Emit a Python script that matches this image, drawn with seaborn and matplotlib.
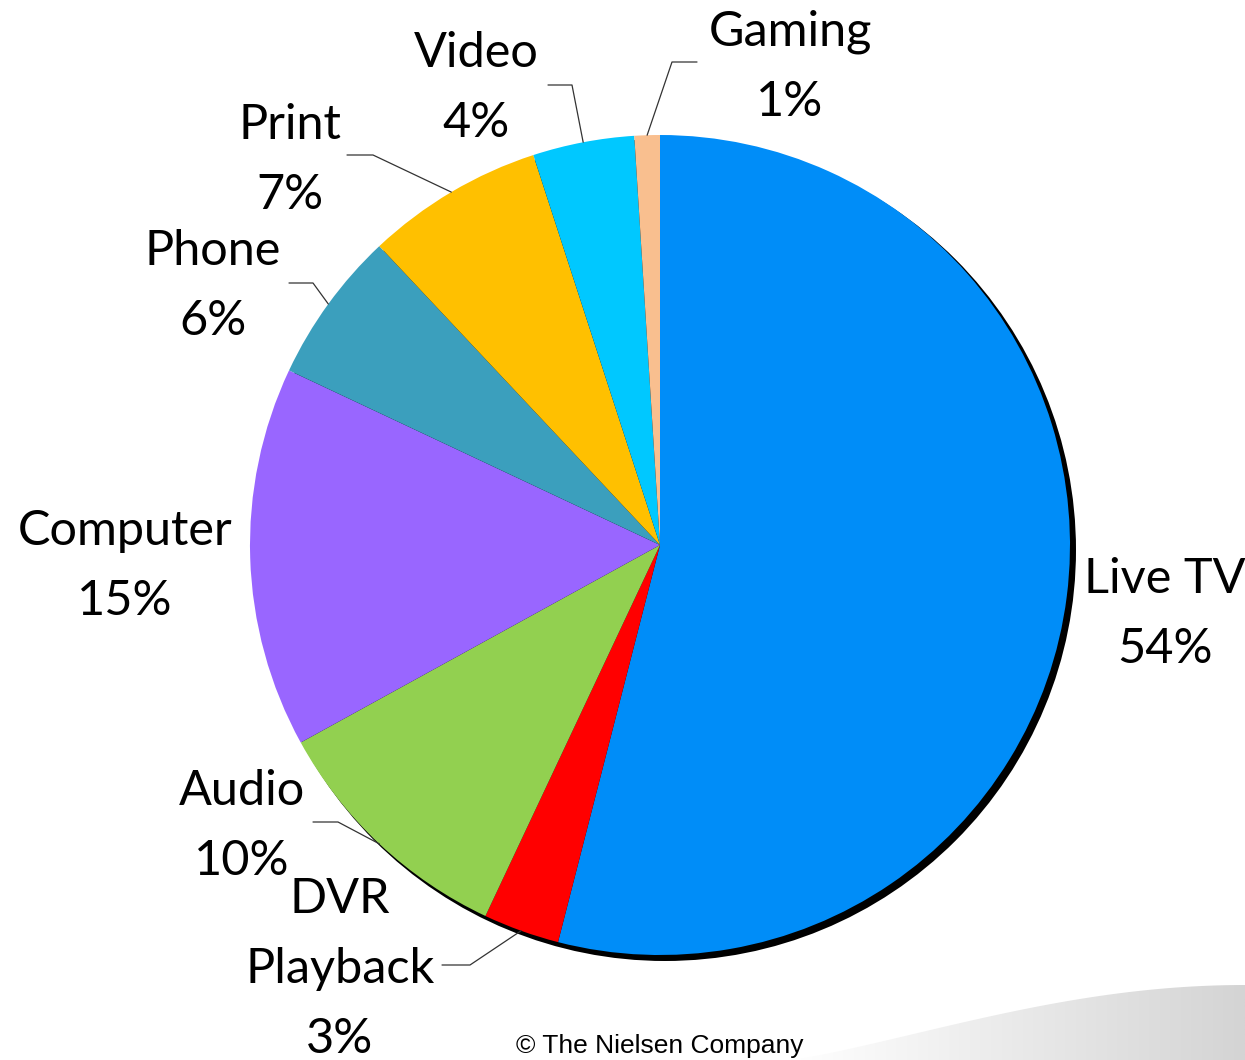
import numpy as np
import matplotlib
matplotlib.use("Agg")
import matplotlib.pyplot as plt
from matplotlib.patches import Circle, Polygon
import seaborn as sns

# Share of media time by platform (%)
categories = ["Live TV", "DVR Playback", "Audio", "Computer", "Phone", "Print", "Video", "Gaming"]
shares = [54, 3, 10, 15, 6, 7, 4, 1]
slice_colors = ["#008DF8", "#FF0000", "#92D050", "#9966FF", "#3B9FBD", "#FFC000", "#00C8FF", "#F9BF8F"]

# Label text lines for each slice
label_lines = {
    "Live TV": ["Live TV"],
    "DVR Playback": ["DVR", "Playback"],
    "Audio": ["Audio"],
    "Computer": ["Computer"],
    "Phone": ["Phone"],
    "Print": ["Print"],
    "Video": ["Video"],
    "Gaming": ["Gaming"],
}

sns.set_theme(style="white")
plt.rcParams["font.family"] = ["Lato", "DejaVu Sans"]

W, H = 1245, 1060
fig = plt.figure(figsize=(W / 100, H / 100), dpi=100)
ax = fig.add_axes([0, 0, 1, 1])


def Y(py):
    return H - py


cx, cy, R = 660, 545, 410

# soft grey swoosh in the lower right corner
t = np.linspace(0, 1, 60)
top_x = 790 + t * (W - 790)
top_y = 1060 - 75 * np.sin(t * np.pi / 2) ** 1.2
pts = np.column_stack([np.r_[top_x, W, 790], np.r_[Y(top_y), Y(H), Y(H)]])
swoosh = Polygon(pts, closed=True, facecolor="none", edgecolor="none")
ax.add_patch(swoosh)
grad = np.linspace(0, 1, 256)[None, :]
img = ax.imshow(grad, extent=[790, W, 0, 80], cmap=sns.blend_palette(["#ffffff", "#d4d4d4"], as_cmap=True),
                aspect="auto", zorder=0)
img.set_clip_path(swoosh)

# drop shadow under the pie
ax.add_patch(Circle((cx + 5, Y(cy) - 5), R + 1, facecolor="black", edgecolor="none", zorder=1))

wedges, _ = ax.pie(shares, colors=slice_colors, startangle=90, counterclock=False,
                   radius=R, center=(cx, Y(cy)),
                   wedgeprops=dict(linewidth=0))
for w in wedges:
    w.set_zorder(2)

ax.set_xlim(0, W)
ax.set_ylim(0, H)
ax.set_aspect("equal")
ax.axis("off")

# label anchor (first line centre) and leader line path (elbow, end)
label_pos = {
    "Live TV": (1165, 579),
    "DVR Playback": (340, 899),
    "Audio": (242, 791),
    "Computer": (125, 531),
    "Phone": (213, 251),
    "Print": (290, 125),
    "Video": (476, 53),
    "Gaming": (790, 32),
}
leaders = {
    "DVR Playback": ((470, 965), (442, 965)),
    "Audio": ((338, 822), (313, 822)),
    "Phone": ((313, 283), (289, 283)),
    "Print": ((373, 155), (347, 155)),
    "Video": ((572, 85), (548, 85)),
    "Gaming": ((672, 62), (697, 62)),
}

line_gap = 70
fs = 35
cum = np.cumsum([0] + shares)
total = sum(shares)
for i, (cat, val) in enumerate(zip(categories, shares)):
    mid = 90 - 360 * (cum[i] + val / 2) / total
    ex = cx + R * np.cos(np.radians(mid))
    ey = cy - R * np.sin(np.radians(mid))
    if cat in leaders:
        (bx, by), (tx, ty) = leaders[cat]
        ax.plot([ex, bx, tx], [Y(ey), Y(by), Y(ty)], color="#333333", lw=0.9, zorder=3)
    lx, ly = label_pos[cat]
    lines = label_lines[cat] + [f"{val}%"]
    for k, s in enumerate(lines):
        ax.text(lx, Y(ly + k * line_gap), s, ha="center", va="center", fontsize=fs, color="black", zorder=4)

ax.text(660, Y(1046), "\u00a9 The Nielsen Company", ha="center", va="center",
        fontsize=19, family=["Liberation Sans", "DejaVu Sans"], color="black", zorder=4)

fig.savefig("out.png", dpi=100)
